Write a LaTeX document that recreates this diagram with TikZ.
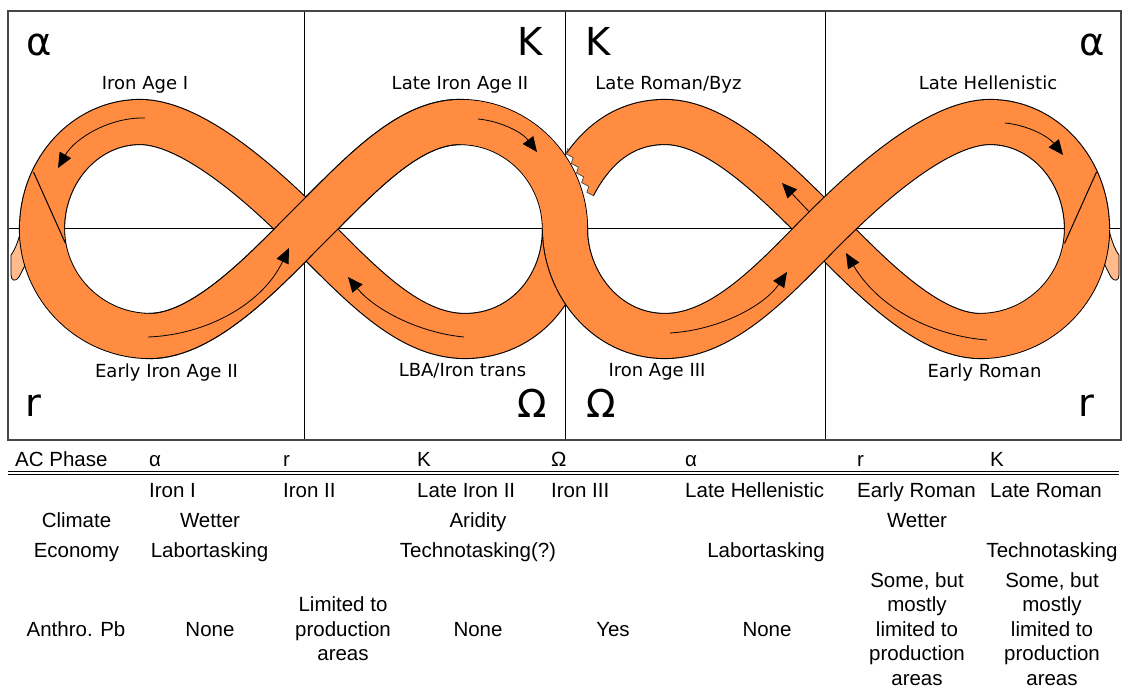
\documentclass[tikz,border=0pt]{standalone}
\usepackage{fontspec}
\setmainfont{Liberation Sans}
\newfontfamily\dvs{DejaVu Sans}
\usetikzlibrary{arrows.meta}
\definecolor{bandor}{RGB}{255,140,64}
\definecolor{peach}{RGB}{255,187,140}
\definecolor{framegray}{RGB}{70,70,70}
\tikzset{
  band/.style={draw=black, line width=1.1pt, double=bandor, double distance=44pt, line cap=butt, line join=round},
  bandedge/.style={draw=black, line width=46.2pt, line cap=butt, line join=round},
  bandfill/.style={draw=bandor, line width=44pt, line cap=butt, line join=round},
  gridline/.style={draw=black, line width=0.9pt},
  framebox/.style={draw=framegray, line width=1.4pt},
  flow/.style={draw=black, line width=0.8pt, -{Triangle[length=15pt,width=13pt]}},
  fold/.style={draw=black, line width=1pt},
  tailshape/.style={fill=peach, draw=black, line width=0.8pt},
  tear/.style={draw=black!70, line width=0.7pt, line join=miter},
  phasel/.style={font=\dvs\fontsize{38.5}{40}\selectfont, inner sep=0pt, anchor=base},
  lbl/.style={font=\dvs\fontsize{18}{21}\selectfont, inner sep=0pt, anchor=base},
  cell/.style={font=\fontsize{20.5}{24.5}\selectfont, inner sep=0pt, anchor=base, align=center},
  cellw/.style={font=\fontsize{20.5}{24.5}\selectfont, inner sep=0pt, anchor=base west},
}
\begin{document}
\begin{tikzpicture}[x=1pt,y=-1pt]
\useasboundingbox (0,0) rectangle (1122,688);
\fill[white] (0,0) rectangle (1122,688);
% grid
\draw[gridline] (8,228.5) -- (1121,228.5);
\draw[gridline] (304.5,11) -- (304.5,440);
\draw[gridline] (565,11) -- (565,440);
\draw[gridline] (825,11) -- (825,440);
\draw[framebox] (8,11) rectangle (1121,440);
% tails
\draw[tailshape] (23,220) .. controls (20,238) and (15,250) .. (11,255) -- (11,275) .. controls (11,281) and (16,282) .. (19,277) .. controls (24,268) and (29,257) .. (34,245) -- cycle;
\draw[tailshape] (1107,220) .. controls (1110,238) and (1115,250) .. (1119,255) -- (1119,275) .. controls (1119,281) and (1114,282) .. (1111,277) .. controls (1106,268) and (1101,257) .. (1096,245) -- cycle;
% figure eight 1
\draw[band] (306,229) .. controls (270,193) and (195,122) .. (140,122)
  .. controls (86,122) and (42,170) .. (42,229)
  .. controls (42,288) and (91,336) .. (150,336)
  .. controls (205,336) and (268,267) .. (306,229)
  .. controls (360,175) and (408,122) .. (460,122)
  .. controls (518,122) and (565,170) .. (565,229)
  .. controls (565,288) and (523,336) .. (465,336)
  .. controls (408,336) and (360,283) .. (306,229) -- cycle;
% over strand at first crossing
\draw[bandedge] (150,336) .. controls (205,336) and (268,267) .. (306,229)
  .. controls (360,175) and (408,122) .. (460,122);
\draw[bandfill] (42,229) .. controls (42,288) and (91,336) .. (150,336)
  .. controls (205,336) and (268,267) .. (306,229)
  .. controls (360,175) and (408,122) .. (460,122)
  .. controls (518,122) and (565,170) .. (565,229);
% figure eight 2, under strand with torn end
\begin{scope}
\clip (558,0) -- (558,128) -- (568,148) -- (566.1,153.8) -- (573.2,157.6) -- (571.3,163.4) -- (578.4,167.2) -- (576.5,173) -- (583.6,176.8) -- (581.7,182.6) -- (588.8,186.4) -- (586.9,192.2) -- (594,196) -- (614,233) -- (700,233) -- (700,688) -- (1122,688) -- (1122,0) -- cycle;
\draw[band] (1087,229) .. controls (1087,288) and (1039,336) .. (980,336)
  .. controls (925,336) and (862,267) .. (824,229)
  .. controls (775,180) and (718,122) .. (665,122)
  .. controls (622,122) and (592,148) .. (572,188) -- (564,204);
\end{scope}
\draw[tear] (568,148) -- (566.1,153.8) -- (573.2,157.6) -- (571.3,163.4) -- (578.4,167.2) -- (576.5,173) -- (583.6,176.8) -- (581.7,182.6) -- (588.8,186.4) -- (586.9,192.2) -- (594,196);
\draw[flow] (815,218) -- (782,183);
% figure eight 2, over strand
\draw[bandedge] (565,229) .. controls (565,282) and (605,336) .. (665,336)
  .. controls (725,336) and (778,275) .. (824,229)
  .. controls (860,193) and (935,122) .. (990,122)
  .. controls (1044,122) and (1087,170) .. (1087,229);
\draw[bandfill] (460,122) .. controls (518,122) and (565,170) .. (565,229)
  .. controls (565,282) and (605,336) .. (665,336)
  .. controls (725,336) and (778,275) .. (824,229)
  .. controls (860,193) and (935,122) .. (990,122)
  .. controls (1044,122) and (1087,170) .. (1087,229)
  .. controls (1087,288) and (1039,336) .. (980,336);
% fold lines
\draw[fold] (33.5,172) -- (65.5,243.5);
\draw[fold] (1096.5,172) -- (1064.5,243.5);
% flow arrows
\draw[flow] (145,118) .. controls (110,117) and (75,138) .. (58,168);
\draw[flow] (148,337) .. controls (205,335) and (262,305) .. (289,248);
\draw[flow] (478,119) .. controls (500,121) and (522,132) .. (537,152);
\draw[flow] (464,337) .. controls (420,333) and (375,310) .. (348,277);
\draw[flow] (670,333) .. controls (720,330) and (765,305) .. (787,272);
\draw[flow] (1005,123) .. controls (1027,125) and (1048,136) .. (1063,155);
\draw[flow] (987,340) .. controls (935,336) and (880,310) .. (846,253);
% labels
\node[lbl] (l1) at (145,89.5) {Iron Age I};
\node[lbl] (l2) at (460,89.5) {Late Iron Age II};
\node[lbl] (l3) at (668.5,89.5) {Late Roman/Byz};
\node[lbl] (l4) at (988,89.5) {Late Hellenistic};
\node[lbl] (l5) at (166.5,377) {Early Iron Age II};
\node[lbl] (l6) at (462.5,376.5) {LBA/Iron trans};
\node[lbl] (l7) at (657,376.5) {Iron Age III};
\node[lbl] (l8) at (984.5,377) {Early Roman};
\node[phasel] (p1) at (39,55) {α};
\node[phasel] (p2) at (530,55) {K};
\node[phasel] (p3) at (598.5,55) {K};
\node[phasel] (p4) at (1092,55) {α};
\node[phasel] (p5) at (33.5,416.5) {r};
\node[phasel] (p6) at (532.5,417) {Ω};
\node[phasel] (p7) at (601,417) {Ω};
\node[phasel] (p8) at (1086.5,416.5) {r};
% table
\draw[line width=1pt] (8,471.8) -- (1119,471.8);
\draw[line width=1pt] (8,474.8) -- (1119,474.8);
\node[cellw] (a0) at (15,466) {AC Phase};
\node[cellw] (a1) at (149,466) {α};
\node[cellw] (a2) at (283,466) {r};
\node[cellw] (a3) at (417,466) {K};
\node[cellw] (a4) at (551,466) {Ω};
\node[cellw] (a5) at (685,466) {α};
\node[cellw] (a6) at (857,466) {r};
\node[cellw] (a7) at (990,466) {K};
\node[cellw] (b1) at (149,497) {Iron I};
\node[cellw] (b2) at (283,497) {Iron II};
\node[cellw] (b3) at (417,497) {Late Iron II};
\node[cellw] (b4) at (551,497) {Iron III};
\node[cellw] (b5) at (685,497) {Late Hellenistic};
\node[cellw] (b6) at (857,497) {Early Roman};
\node[cellw] (b7) at (990,497) {Late Roman};
\node[cell] (c0) at (76.5,527) {Climate};
\node[cell] (c1) at (210,527) {Wetter};
\node[cell] (c2) at (478,527) {Aridity};
\node[cell] (c3) at (917,527) {Wetter};
\node[cell] (e0) at (76.5,557.5) {Economy};
\node[cell] (e1) at (209.5,557.5) {Labortasking};
\node[cell] (e2) at (478,557.5) {Technotasking(?)};
\node[cell] (e3) at (766,557.5) {Labortasking};
\node[cell] (e4) at (1052,557.5) {Technotasking};
\node[cell] (d0) at (76,636) {Anthro. Pb};
\node[cell] (d1) at (210,636) {None};
\node[cell] (d2) at (343,660.5) {Limited to\\production\\areas};
\node[cell] (d3) at (478,636) {None};
\node[cell] (d4) at (613,636) {Yes};
\node[cell] (d5) at (767,636) {None};
\node[cell] (d6) at (917,685) {Some, but\\mostly\\limited to\\production\\areas};
\node[cell] (d7) at (1052,685) {Some, but\\mostly\\limited to\\production\\areas};
\end{tikzpicture}
\end{document}
